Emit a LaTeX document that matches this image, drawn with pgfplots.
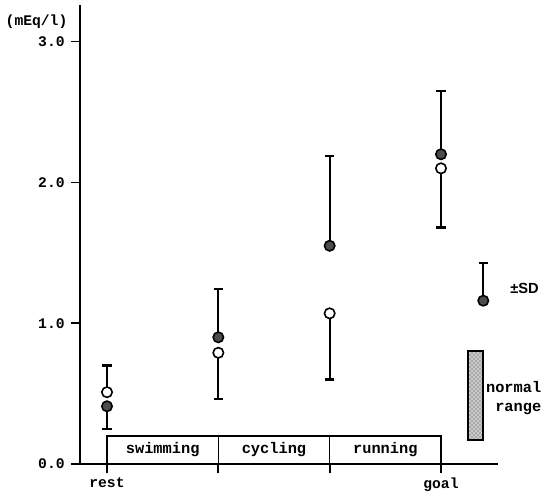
\documentclass[border=0pt]{standalone}
\usepackage{fontspec}
\setmainfont{Liberation Mono}
\newfontfamily\sdfont{Liberation Sans}
\usepackage{pgfplots}
\pgfplotsset{compat=1.18}
\usepackage{pgfplotstable}
\usetikzlibrary{patterns}

\pgfplotstableread{
x y ep em
0 0.41 0 0.16
1 0.90 0.34 0
2 1.55 0.64 0
3 2.20 0.45 0
}\filledtab
\pgfplotstableread{
x y ep em
0 0.51 0.19 0
1 0.79 0 0.33
2 1.07 0 0.47
3 2.10 0 0.42
}\opentab
\pgfplotstableread{
x y ep em
3.38 1.16 0.27 0
}\sdtab

\begin{document}
\begin{tikzpicture}
\begin{axis}[
  at={(0,0)}, anchor=south west, scale only axis,
  width=313.5pt, height=344.25pt,
  xmin=-0.2425, xmax=3.512, ymin=0, ymax=3.26,
  axis lines=left, axis line style={line width=1.3pt, -},
  xtick={0,1,2,3}, xticklabels={rest,,,goal},
  ytick={0,1,2,3}, yticklabels={0.0,1.0,2.0,3.0},
  tick align=outside, major tick length=6.5pt,
  tick style={line width=1.3pt, black},
  ticklabel style={font=\fontsize{11}{13}\selectfont\bfseries},
  yticklabel style={xshift=-1.5pt},
  clip=false,
  errbar/.style={draw=none, mark=none, forget plot,
    error bars/.cd, y dir=both, y explicit,
    error bar style={draw=black, line width=1.6pt, solid},
    error mark options={rotate=90, mark size=3.5pt, line width=1.6pt, draw=black}},
]
% category box
\addplot[black, line width=1.3pt] coordinates {(0,0) (0,0.2) (3,0.2) (3,0)};
\addplot[black, line width=0.8pt] coordinates {(1,0) (1,0.2)};
\addplot[black, line width=0.8pt] coordinates {(2,0) (2,0.2)};
\node[font=\fontsize{11.5}{13}\selectfont\bfseries] at (axis cs:0.5,0.1) {swimming};
\node[font=\fontsize{11.5}{13}\selectfont\bfseries] at (axis cs:1.5,0.1) {cycling};
\node[font=\fontsize{11.5}{13}\selectfont\bfseries] at (axis cs:2.5,0.1) {running};

% error bars
\addplot[errbar] table[x=x, y=y, y error plus=ep, y error minus=em] {\filledtab};
\addplot[errbar] table[x=x, y=y, y error plus=ep, y error minus=em] {\opentab};
\addplot[errbar] table[x=x, y=y, y error plus=ep, y error minus=em] {\sdtab};

% markers
\addplot[only marks, mark=*, mark size=3.9pt, mark options={fill=black!70, draw=black, line width=1.2pt}] table[x=x, y=y] {\filledtab};
\addplot[only marks, mark=*, mark size=3.9pt, mark options={fill=white, draw=black, line width=1.2pt}] table[x=x, y=y] {\opentab};
\addplot[only marks, mark=*, mark size=3.9pt, mark options={fill=black!70, draw=black, line width=1.2pt}] table[x=x, y=y] {\sdtab};

% normal range bar
\addplot[draw=black, line width=1.3pt, fill=black!20, postaction={pattern=crosshatch dots, pattern color=black!80}] coordinates {(3.24,0.17) (3.38,0.17) (3.38,0.80) (3.24,0.80)} -- cycle;

\node[anchor=west, font=\fontsize{11}{13}\selectfont\bfseries] at (axis cs:3.58,1.25) {{\sdfont\bfseries ±SD}};
\node[anchor=east, align=right, font=\fontsize{11.5}{14}\selectfont\bfseries] at (axis cs:3.943,0.47) {normal\\range};
\node[anchor=east, font=\fontsize{11}{13}\selectfont\bfseries] at (axis cs:-0.314,3.14) {(mEq/l)};
\end{axis}
\pgfresetboundingbox
\path[use as bounding box] (-60pt,-24.75pt) rectangle (355.5pt,348pt);
\end{tikzpicture}
\end{document}
